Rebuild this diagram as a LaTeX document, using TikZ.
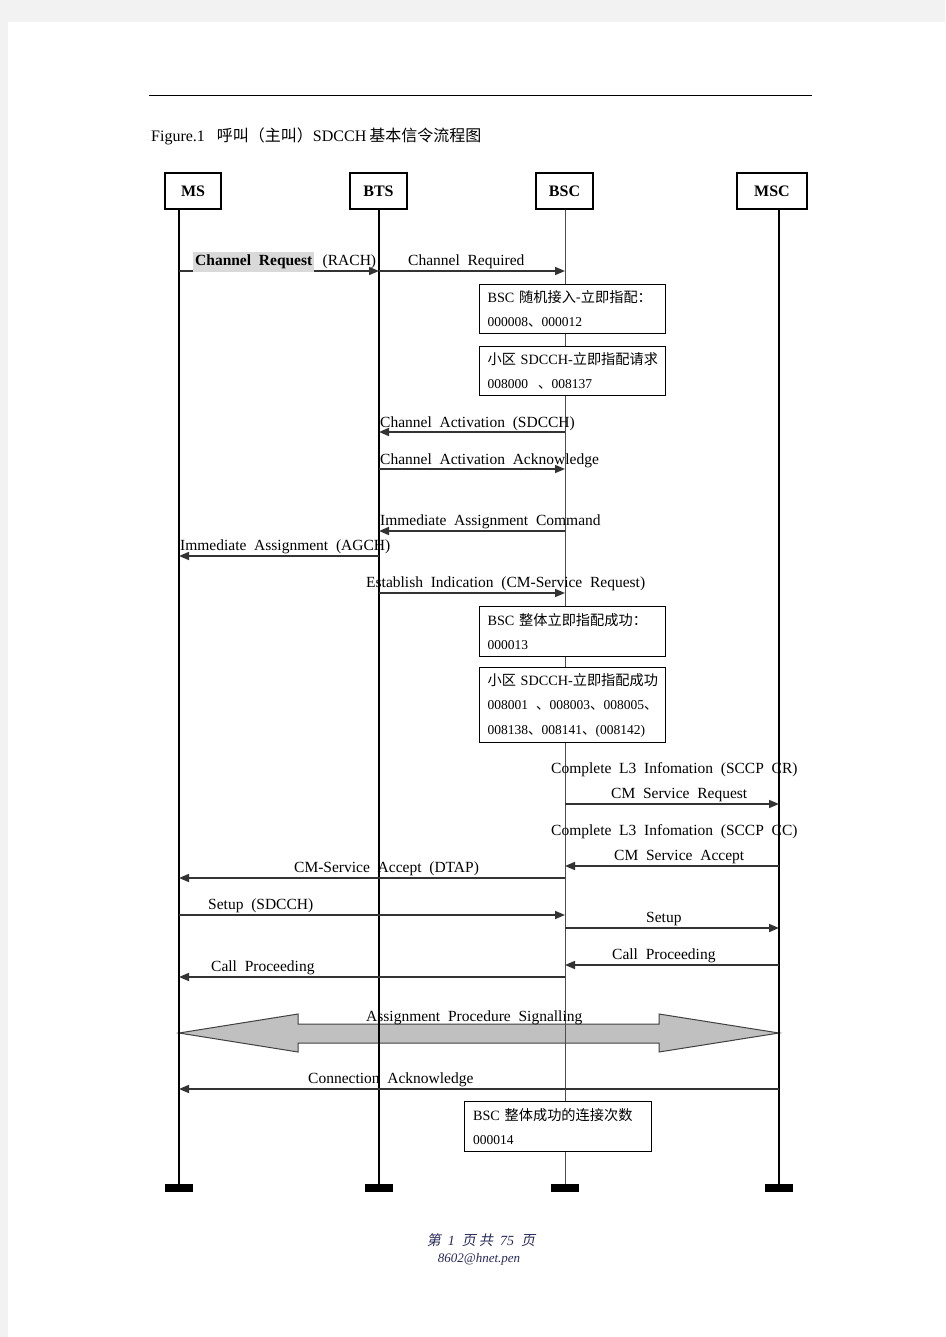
\documentclass[tikz,border=0pt]{standalone}
\usepackage{fontspec}
\setmainfont{Liberation Serif}[WordSpace=2]
\newfontfamily\zh{Noto Sans CJK SC}
\newfontfamily\zhit{Noto Sans CJK SC}[FakeSlant=0.2]
\usetikzlibrary{arrows.meta,positioning}

\definecolor{pagegray}{HTML}{F2F2F2}
\definecolor{hlgray}{HTML}{D9D9D9}
\definecolor{bandgray}{HTML}{C0C0C0}
\definecolor{footblue}{RGB}{40,40,90}

\tikzset{
  entity/.style={draw, line width=1.2pt, minimum height=36pt, inner sep=0pt,
    font=\fontsize{16}{18}\selectfont\bfseries},
  lifeline/.style={line width=2.5pt},
  endbar/.style={fill=black, minimum width=28pt, minimum height=8pt, inner sep=0pt},
  msg/.style={line width=1.6pt, draw=black!80, -{Triangle[length=10pt,width=8pt]}},
  lbl/.style={anchor=base west, inner sep=0pt, font=\fontsize{15.5}{18}\selectfont},
  countbox/.style={draw, line width=1.2pt, fill=white, anchor=north west, align=left,
    inner xsep=7.5pt, inner ysep=0pt, text width=170pt, minimum width=186pt,
    font=\fontsize{14.2}{24.5}\selectfont},
}
\newcommand{\numline}[1]{\mbox{\fontsize{13.5}{24.5}\selectfont #1}}

\begin{document}
\begin{tikzpicture}[x=1pt, y=-1pt]
  % Lifeline positions
  \def\xms{179}
  \def\xbts{379}
  \def\xbsc{565}
  \def\xmsc{779}

  % Page and frame
  \useasboundingbox (0,0) rectangle (945,1337);
  \fill[pagegray] (0,0) rectangle (945,1337);
  \fill[white] (8,22) rectangle (945,1337);
  \draw[line width=0.8pt] (149,95) -- (812,95);
  \node[anchor=base west, inner sep=0pt, font=\fontsize{16}{18}\selectfont] (title) at (151,142)
    {Figure.1\hspace{12pt}{\zh 呼叫（主叫）}SDCCH\hspace{3pt}{\zh 基本信令流程图}};

  % Entities
  \node[entity, minimum width=56pt] (ms) at (193,191) {MS};
  \node[entity, minimum width=57pt, line width=2pt] (bts) at (378.5,191) {BTS};
  \node[entity, minimum width=57pt] (bsc) at (564.5,191) {BSC};
  \node[entity, minimum width=70pt] (msc) at (772,191) {MSC};

  \node[endbar] (msend) at (\xms,1188) {};
  \node[endbar] (btsend) at (\xbts,1188) {};
  \node[endbar] (bscend) at (\xbsc,1188) {};
  \node[endbar] (mscend) at (\xmsc,1188) {};

  % Assignment procedure band (under the lifelines)
  \draw[fill=bandgray, draw=black!75, line width=1pt]
    (\xms,1033) -- (298,1014) -- (298,1024) -- (659,1024) -- (659,1014) -- (\xmsc,1033)
    -- (659,1052) -- (659,1043) -- (298,1043) -- (298,1052) -- cycle;

  % Lifelines
  \draw[lifeline] (ms.south -| msend) -- (msend.north);
  \draw[lifeline] (bts.south -| btsend) -- (btsend.north);
  \draw[line width=1pt, black!70] (bsc.south -| bscend) -- (bscend.north);
  \draw[lifeline] (msc.south -| mscend) -- (mscend.north);

  % Counter boxes
  \node[countbox, minimum height=49pt] (rachbox) at (479,284)
    {\mbox{BSC {\zh 随机接入-立即指配：}}\\\numline{000008{\zh 、}000012}};
  \node[countbox, minimum height=49pt] (reqbox) at (479,346)
    {\mbox{{\zh 小区} SDCCH-{\zh 立即指配请求}}\\\numline{008000\hspace{10pt}{\zh 、}008137}};
  \node[countbox, minimum height=50pt] (iasbox) at (479,606)
    {\mbox{BSC {\zh 整体立即指配成功：}}\\\numline{000013}};
  \node[countbox, minimum height=75pt] (cellbox) at (479,667)
    {\mbox{{\zh 小区} SDCCH-{\zh 立即指配成功}}\\\numline{008001\hspace{8pt}{\zh 、}008003{\zh 、}008005{\zh 、}}\\\numline{008138{\zh 、}008141{\zh 、}(008142)}};
  \node[countbox, minimum height=50pt, minimum width=187pt] (connbox) at (464,1101)
    {\mbox{BSC {\zh 整体成功的连接次数}}\\\numline{000014}};

  % Messages
  \draw[msg] (msend |- 0,271) -- (btsend |- 0,271);
  \draw[msg] (btsend |- 0,271) -- (bscend |- 0,271);
  \draw[msg] (bscend |- 0,432) -- (btsend |- 0,432);
  \draw[msg] (btsend |- 0,469) -- (bscend |- 0,469);
  \draw[msg] (bscend |- 0,531) -- (btsend |- 0,531);
  \draw[msg] (btsend |- 0,556) -- (msend |- 0,556);
  \draw[msg] (btsend |- 0,593) -- (bscend |- 0,593);
  \draw[msg] (bscend |- 0,804) -- (mscend |- 0,804);
  \draw[msg] (mscend |- 0,866) -- (bscend |- 0,866);
  \draw[msg] (bscend |- 0,878) -- (msend |- 0,878);
  \draw[msg] (msend |- 0,915) -- (bscend |- 0,915);
  \draw[msg] (bscend |- 0,928) -- (mscend |- 0,928);
  \draw[msg] (mscend |- 0,965) -- (bscend |- 0,965);
  \draw[msg] (bscend |- 0,977) -- (msend |- 0,977);
  \draw[msg] (mscend |- 0,1089) -- (msend |- 0,1089);

  % Message labels
  \node[lbl, fill=hlgray, inner xsep=2pt, inner ysep=3pt, font=\fontsize{15.5}{18}\selectfont\bfseries]
    (chreq) at (193,266) {Channel Request};
  \node[lbl, right=8pt of chreq.base east, anchor=base west] (rach) {(RACH)};
  \node[lbl] (chrqd) at (408,266) {Channel Required};
  \node[lbl] (chact) at (380,427) {Channel Activation (SDCCH)};
  \node[lbl] (chack) at (380,464) {Channel Activation Acknowledge};
  \node[lbl] (iacmd) at (380,525) {Immediate Assignment Command};
  \node[lbl] (iagch) at (180,550) {Immediate Assignment (AGCH)};
  \node[lbl] (estind) at (366,587) {Establish Indication (CM-Service Request)};
  \node[lbl] (cl3cr) at (551,773) {Complete L3 Infomation (SCCP CR)};
  \node[lbl] (cmreq) at (611,798) {CM Service Request};
  \node[lbl] (cl3cc) at (551,835) {Complete L3 Infomation (SCCP CC)};
  \node[lbl] (cmacc) at (614,860) {CM Service Accept};
  \node[lbl] (dtap) at (294,872) {CM-Service Accept (DTAP)};
  \node[lbl] (setup1) at (208,909) {Setup (SDCCH)};
  \node[lbl] (setup2) at (646,922) {Setup};
  \node[lbl] (cproc2) at (612,959) {Call Proceeding};
  \node[lbl] (cproc1) at (211,971) {Call Proceeding};
  \node[lbl] (asgsig) at (366,1021) {Assignment Procedure Signalling};
  \node[lbl] (connack) at (308,1083) {Connection Acknowledge};

  % Footer
  \node[inner sep=0pt, anchor=base, text=footblue, font=\fontsize{14}{16}\selectfont\itshape] (pageno) at (481,1245)
    {{\zhit 第} 1 {\zhit 页 共} 75 {\zhit 页}};
  \node[inner sep=0pt, anchor=base, text=footblue, font=\fontsize{13}{15}\selectfont\itshape] (mail) at (479,1262)
    {8602@hnet.pen};
\end{tikzpicture}
\end{document}
